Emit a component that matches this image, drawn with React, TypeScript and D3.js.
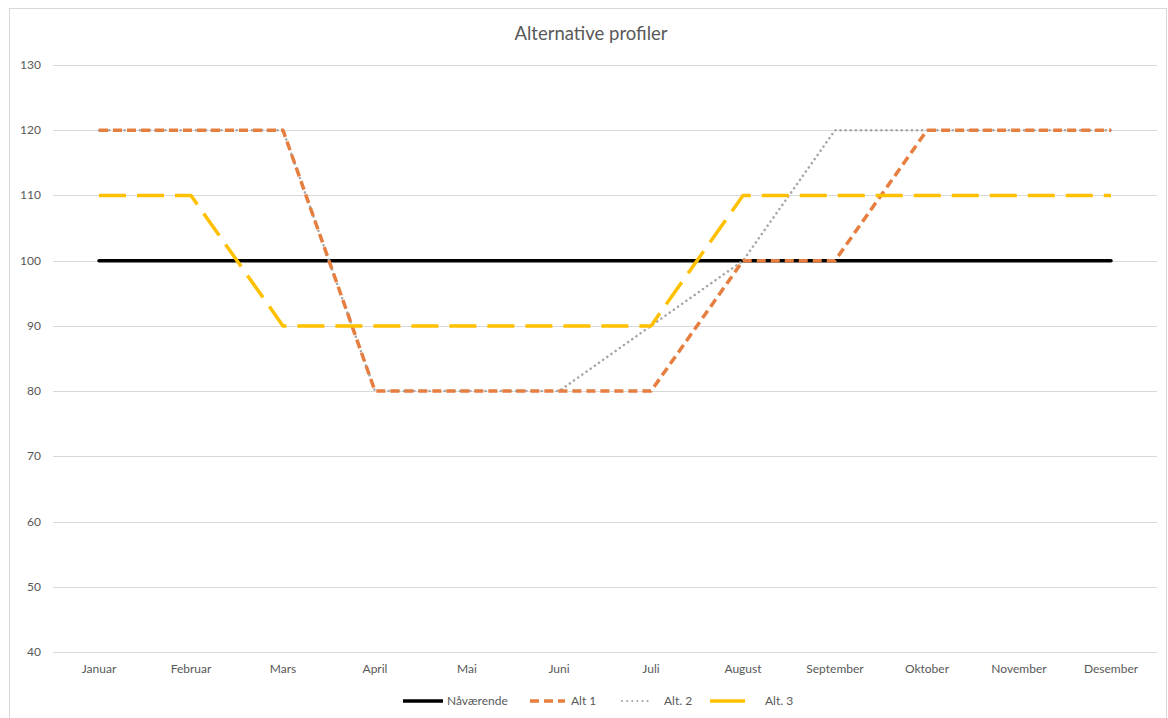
import React from "react";
import * as d3 from "d3";

const months = ["Januar","Februar","Mars","April","Mai","Juni","Juli","August","September","Oktober","November","Desember"];
const navarende = [100,100,100,100,100,100,100,100,100,100,100,100];
const alt1 = [120,120,120,80,80,80,80,100,100,120,120,120];
const alt2 = [120,120,120,80,80,80,90,100,120,120,120,120];
const alt3 = [110,110,90,90,90,90,90,110,110,110,110,110];
const yTicks = [40,50,60,70,80,90,100,110,120,130];

const W = 1168, H = 718;
const left = 53, right = 1157, top = 65, bottom = 652;

export default function App() {
  const x = d3.scaleBand<string>().domain(months).range([left, right]);
  const y = d3.scaleLinear().domain([40, 130]).range([bottom, top]);
  const line = d3.line<number>().x((_, i) => (x(months[i]) as number) + x.bandwidth() / 2).y((d) => y(d));
  const font = "Lato, 'Open Sans', sans-serif";
  const txt = "#595959";

  const series = [
    { name: "Nåværende", data: navarende, color: "#000000", width: 3.5, dash: "", cap: "round" },
    { name: "Alt. 2", data: alt2, color: "#A5A5A5", width: 2.5, dash: "0.1 5", cap: "round" },
    { name: "Alt 1", data: alt1, color: "#E57E3E", width: 3.5, dash: "9 5", cap: "butt" },
    { name: "Alt. 3", data: alt3, color: "#FFC000", width: 3.5, dash: "27 11", cap: "butt" },
  ];

  const legend = [
    { name: "Nåværende", color: "#000000", width: 3.5, dash: "", cap: "butt", x1: 403, x2: 443, tx: 447 },
    { name: "Alt 1", color: "#E57E3E", width: 3.5, dash: "9 5", cap: "butt", x1: 530, x2: 565, tx: 571 },
    { name: "Alt. 2", color: "#A5A5A5", width: 2, dash: "0.1 5", cap: "round", x1: 622, x2: 652, tx: 664 },
    { name: "Alt. 3", color: "#FFC000", width: 3.5, dash: "", cap: "butt", x1: 710, x2: 745, tx: 765 },
  ];

  return (
    <svg width={W} height={H} style={{ position: "absolute", left: 0, top: 0, background: "#fff" }}>
      <rect x={9.5} y={8.5} width={1157} height={720} fill="#fff" stroke="#d9d9d9" />
      <text x={591} y={40} textAnchor="middle" fontFamily={font} fontSize={18.5} fill={txt}>Alternative profiler</text>
      {yTicks.map((t) => (
        <g key={t}>
          <line x1={left} x2={right} y1={Math.round(y(t)) + 0.5} y2={Math.round(y(t)) + 0.5} stroke="#d9d9d9" strokeWidth={1} />
          <text x={41} y={y(t) + 4} textAnchor="end" fontFamily={font} fontSize={12} fill={txt}>{t}</text>
        </g>
      ))}
      {months.map((m) => (
        <text key={m} x={(x(m) as number) + x.bandwidth() / 2} y={673} textAnchor="middle" fontFamily={font} fontSize={12} fill={txt}>{m}</text>
      ))}
      {series.map((s) => (
        <path key={s.name} d={line(s.data) as string} fill="none" stroke={s.color} strokeWidth={s.width}
          strokeDasharray={s.dash || undefined} strokeLinecap={s.cap as any} strokeLinejoin="round" />
      ))}
      {legend.map((l) => (
        <g key={l.name}>
          <line x1={l.x1} x2={l.x2} y1={701} y2={701} stroke={l.color} strokeWidth={l.width}
            strokeDasharray={l.dash || undefined} strokeLinecap={l.cap as any} />
          <text x={l.tx} y={705} fontFamily={font} fontSize={12} fill={txt}>{l.name}</text>
        </g>
      ))}
    </svg>
  );
}
